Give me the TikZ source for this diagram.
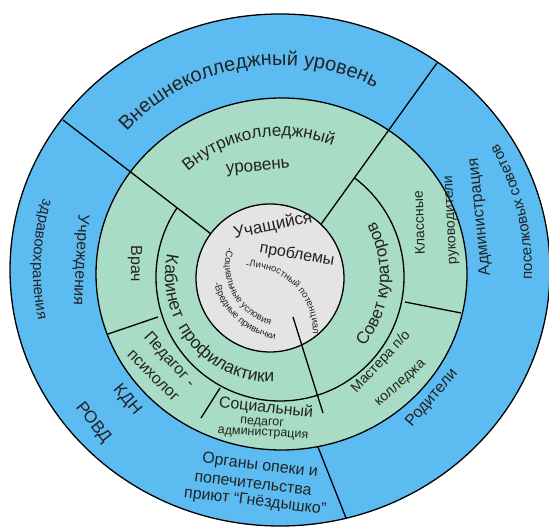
\documentclass[tikz,border=0pt]{standalone}
\usepackage{fontspec}
\setmainfont{Liberation Sans}
\usetikzlibrary{decorations.text}

\definecolor{outerblue}{RGB}{92,188,242}
\definecolor{ringgreen}{RGB}{168,220,198}
\definecolor{coregray}{RGB}{228,228,228}
\definecolor{inktext}{RGB}{35,35,35}

\newcommand{\hugefs}{\fontsize{20}{24}\selectfont}
\newcommand{\bigfs}{\fontsize{17}{20}\selectfont}
\newcommand{\midfs}{\fontsize{16}{19}\selectfont}
\newcommand{\smallfs}{\fontsize{14}{17}\selectfont}
\newcommand{\notefs}{\fontsize{12.5}{15}\selectfont}
\newcommand{\tinyfs}{\fontsize{9.5}{11}\selectfont}

\begin{document}
\begin{tikzpicture}[
  x=1pt,
  y=1pt,
  outerband/.style={fill=outerblue, draw=black, line width=1.3pt},
  innerband/.style={fill=ringgreen, draw=black, line width=1.3pt},
  core/.style={fill=coregray, draw=black, line width=1.3pt},
  divider/.style={draw=black, line width=1.3pt},
  lbl/.style={text=inktext, inner sep=0pt, font=\midfs},
  arclbl/.style={
    decorate,
    decoration={text along path, text align=center, text color=inktext, text={#1}}
  },
  arclblleft/.style={arclbl={#1}, decoration={text align=left}}
]
\useasboundingbox (0,0) rectangle (549,527);

% ---------------------------------------------------------------------------
% rings
% ---------------------------------------------------------------------------
\path[outerband] (280,257) ellipse [x radius=270, y radius=256];
\path[innerband] (281.5,253) ellipse [x radius=185.5, y radius=176];

% sector borders
\draw[divider] (63,407) -- (215,290);
\draw[divider] (437,464) -- (314,293);
\draw[divider] (318,80) -- (346,9);
\draw[divider] (108,193) -- (158,210);
\draw[divider] (201,109) -- (220,139);
\draw[divider] (405,225) -- (461,214);

% middle ring, open under the upper sector
\begin{scope}
  \clip (278,242) -- (-79,516) -- (-79,-73) -- (650,-73) -- (650,613) -- (544,613) -- cycle;
  \draw[divider] (280,250) circle [radius=124];
\end{scope}

\path[core] (270,249) circle [radius=74];
\draw[divider] (293,210) -- (323,114);

% ---------------------------------------------------------------------------
% outer level
% ---------------------------------------------------------------------------
\path[arclbl={|\hugefs|Внешнеколледжный уровень}]
  (280,252) ++(140:210) arc [start angle=140, end angle=60, radius=210];
\path[arclbl={|\fontsize{15}{18}\selectfont|здравоохранения}]
  (280,257) ++(150:247) arc [start angle=150, end angle=205, radius=247];
\node[lbl, rotate=-93] (uchr) at (80,267) {Учреждения};
\node[lbl, font=\fontsize{17}{20}\selectfont, rotate=-50] (kdn) at (127,127) {КДН};
\node[lbl, font=\fontsize{17}{20}\selectfont, rotate=-52] (rovd) at (93,104) {РОВД};
\node[lbl, rotate=-7] (organy) at (260,61) {Органы опеки и};
\node[lbl, rotate=-7] (popech) at (253,43) {попечительства};
\node[lbl, rotate=-7] (priut) at (255,25) {приют “Гнёздышко”};
\node[lbl, rotate=49] (roditeli) at (432,129) {Родители};
\node[lbl, rotate=96] (admin) at (480,310) {Администрация};
\path[arclbl={|\fontsize{15}{18}\selectfont|поселковых советов}]
  (280,257) ++(-8:252) arc [start angle=-8, end angle=36, radius=252];

% ---------------------------------------------------------------------------
% college level
% ---------------------------------------------------------------------------
\path[arclbl={|\bigfs|Внутриколледжный}]
  (281,251) ++(140:140) arc [start angle=140, end angle=60, radius=140];
\node[lbl, font=\bigfs, rotate=5] (uroven) at (258,359) {уровень};
\node[lbl, rotate=-90] (vrach) at (135,263) {Врач};
\node[lbl, rotate=-48] (pedagog) at (169,167) {Педагог -};
\node[lbl, rotate=-45] (psiholog) at (153,151) {психолог};
\node[lbl, rotate=-6] (socped) at (266,119) {Социальный};
\node[lbl, font=\notefs, rotate=-4] (pedag) at (262,104) {педагог};
\node[lbl, font=\notefs, rotate=-3] (adm) at (263,93) {администрация};
\node[lbl, font=\smallfs, rotate=47] (mastera) at (381,165) {Мастера п/о};
\node[lbl, font=\smallfs, rotate=42] (kolledzh) at (401,143) {колледжа};
\node[lbl, font=\smallfs, rotate=92] (klass) at (419,304) {Классные};
\node[lbl, font=\smallfs, rotate=93] (ruk) at (452,307) {руководители};

% middle ring
\path[arclblleft={|\fontsize{17.5}{20}\selectfont|Кабинет}]
  (271,251) ++(168:106) arc [start angle=168, end angle=206, radius=106];
\path[arclblleft={|\fontsize{17.5}{20}\selectfont|профилактики}]
  (271,251) ++(209:106) arc [start angle=209, end angle=290, radius=106];
\path[arclblleft={|\bigfs|Совет кураторов}]
  (277,251) ++(-39:112) arc [start angle=-39, end angle=40, radius=112];

% ---------------------------------------------------------------------------
% student
% ---------------------------------------------------------------------------
\node[lbl, font=\bigfs, rotate=12] (student) at (273,301) {Учащийся};
\node[lbl, rotate=-10] (problems) at (297,272) {проблемы};
\path[arclbl={|\tinyfs|-Личностный потенциал}]
  (248,195) ++(100:65) arc [start angle=100, end angle=-10, radius=65];
\path[arclblleft={|\tinyfs|-Социальные условия}]
  (287,262) ++(164:62) arc [start angle=164, end angle=290, radius=62];
\path[arclblleft={|\tinyfs|-Вредные привычки}]
  (287,262) ++(194:75) arc [start angle=194, end angle=300, radius=75];

\end{tikzpicture}
\end{document}
